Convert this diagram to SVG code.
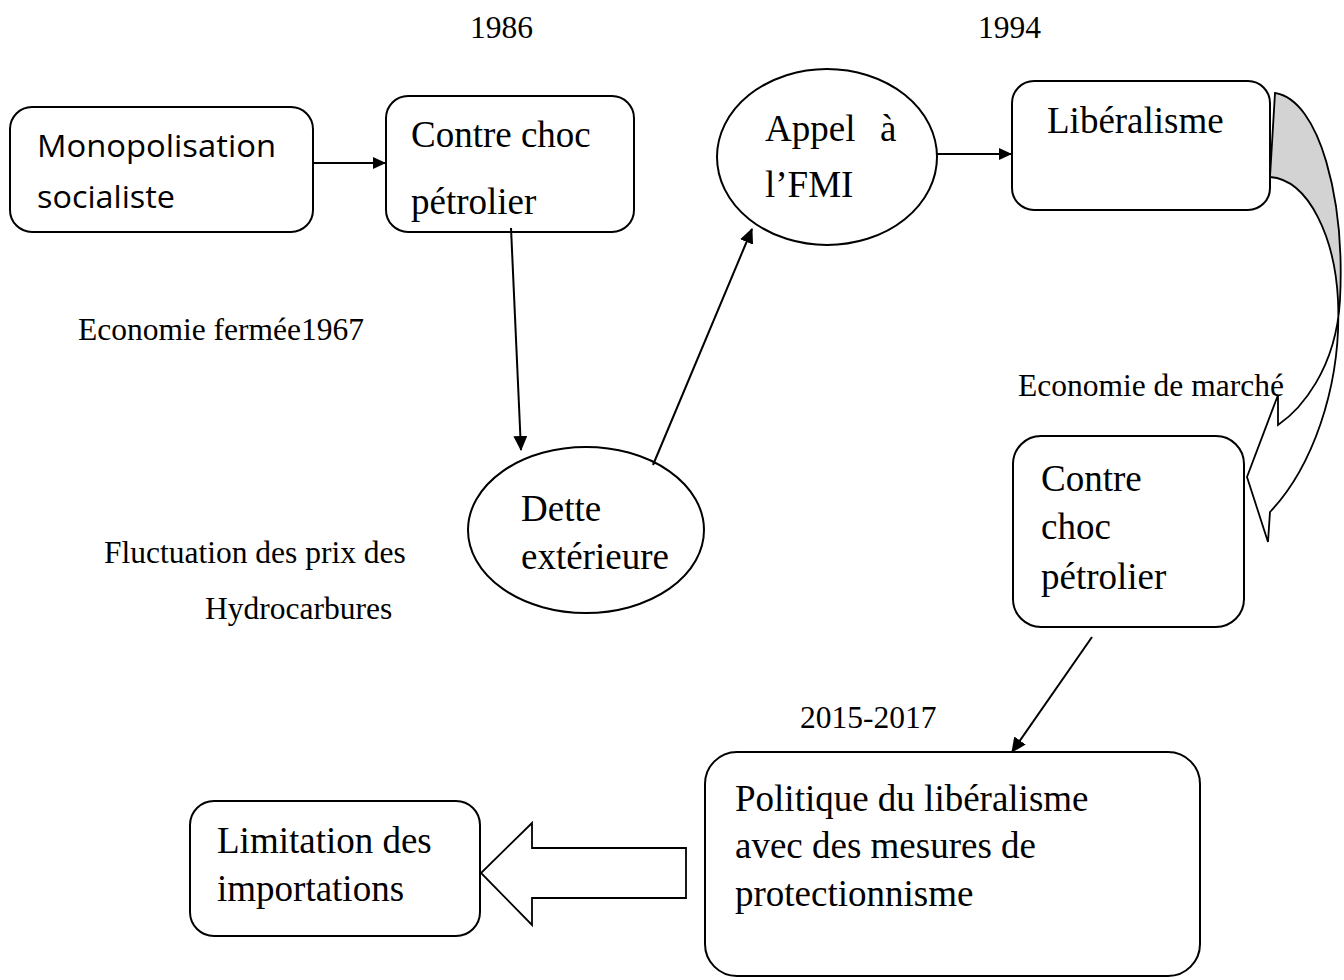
<svg xmlns="http://www.w3.org/2000/svg" width="1344" height="980" viewBox="0 0 1344 980">
<style>
.box{fill:#fff;stroke:#000;stroke-width:2}
.ser{font-family:"Liberation Serif","Times New Roman",serif;fill:#000}
.big{font-size:37px}
.sm{font-size:31.5px}
.sans{font-family:"Open Sans","Noto Sans",sans-serif;font-size:31px;fill:#000}
.ln{stroke:#000;stroke-width:2;fill:none}
</style>
<defs>
<marker id="ah" markerWidth="13" markerHeight="12" refX="12" refY="6" orient="auto" markerUnits="userSpaceOnUse" viewBox="0 0 13 12">
<path d="M0,0 L13,6 L0,12 Z" fill="#000"/>
</marker>
<marker id="ah2" markerWidth="15" markerHeight="14" refX="14" refY="7" orient="auto" markerUnits="userSpaceOnUse" viewBox="0 0 15 14">
<path d="M0,0 L15,7 L0,14 Z" fill="#000"/>
</marker>
</defs>
<rect width="1344" height="980" fill="#fff"/>

<g id="labels">
<text class="ser sm" x="470" y="38">1986</text>
<text class="ser sm" x="978" y="38">1994</text>
<text class="ser sm" x="78" y="340">Economie fermée1967</text>
<text class="ser sm" x="104" y="563">Fluctuation des prix des</text>
<text class="ser sm" x="205" y="619">Hydrocarbures</text>
<text class="ser sm" x="1018" y="396">Economie de marché</text>
<text class="ser sm" x="800" y="728">2015-2017</text>
</g>

<g id="n-monopolisation">
<rect class="box" x="10" y="107" width="303" height="125" rx="22"/>
<text class="sans" x="37" y="157" textLength="239" lengthAdjust="spacingAndGlyphs">Monopolisation</text>
<text class="sans" x="37" y="208" textLength="138" lengthAdjust="spacingAndGlyphs">socialiste</text>
</g>

<g id="n-contrechoc1">
<rect class="box" x="386" y="96" width="248" height="136" rx="22"/>
<text class="ser big" x="411" y="147">Contre choc</text>
<text class="ser big" x="411" y="214">pétrolier</text>
</g>

<g id="n-dette">
<ellipse class="box" cx="586" cy="530" rx="118" ry="83"/>
<text class="ser big" x="521" y="521">Dette</text>
<text class="ser big" x="521" y="569">extérieure</text>
</g>

<g id="n-fmi">
<ellipse class="box" cx="827" cy="157" rx="110" ry="88"/>
<text class="ser big" x="765" y="141">Appel <tspan x="880">à</tspan></text>
<text class="ser big" x="765" y="197">l’FMI</text>
</g>

<g id="n-liberalisme">
<rect class="box" x="1012" y="81" width="258" height="129" rx="22"/>
<text class="ser big" x="1047" y="133">Libéralisme</text>
</g>

<g id="n-contrechoc2">
<rect class="box" x="1013" y="436" width="231" height="191" rx="28"/>
<text class="ser big" x="1041" y="491">Contre</text>
<text class="ser big" x="1041" y="539">choc</text>
<text class="ser big" x="1041" y="589">pétrolier</text>
</g>

<g id="n-politique">
<rect class="box" x="705" y="752" width="495" height="224" rx="32"/>
<text class="ser big" x="735" y="811">Politique du libéralisme</text>
<text class="ser big" x="735" y="858">avec des mesures de</text>
<text class="ser big" x="735" y="906">protectionnisme</text>
</g>

<g id="n-limitation">
<rect class="box" x="190" y="801" width="290" height="135" rx="24"/>
<text class="ser big" x="217" y="853">Limitation des</text>
<text class="ser big" x="217" y="901">importations</text>
</g>

<g id="connectors">
<line class="ln" x1="313" y1="163" x2="385" y2="163" marker-end="url(#ah)"/>
<line class="ln" x1="511" y1="228" x2="521" y2="450" marker-end="url(#ah2)"/>
<line class="ln" x1="653" y1="465" x2="752" y2="229" marker-end="url(#ah2)"/>
<line class="ln" x1="937" y1="154" x2="1011" y2="154" marker-end="url(#ah)"/>
<line class="ln" x1="1092" y1="637" x2="1012" y2="752" marker-end="url(#ah2)"/>
<path d="M686,848 L532,848 L532,823 L481,873 L532,925 L532,898 L686,898 Z" fill="#fff" stroke="#000" stroke-width="1.8"/>
<path d="M1275,93 C1320,100 1345,200 1340,300 L1338,300 C1335,240 1310,180 1270,177 Z" fill="#d3d3d3" stroke="none"/>
<path d="M1278,395 L1247,477 L1268,542 L1270,512 C1310,470 1342,390 1338,300 C1335,240 1310,180 1270,177 L1275,93 C1320,100 1345,200 1340,300 C1336,370 1300,410 1278,425 Z" fill="none" stroke="#000" stroke-width="1.8" stroke-linejoin="miter"/>
</g>
</svg>
